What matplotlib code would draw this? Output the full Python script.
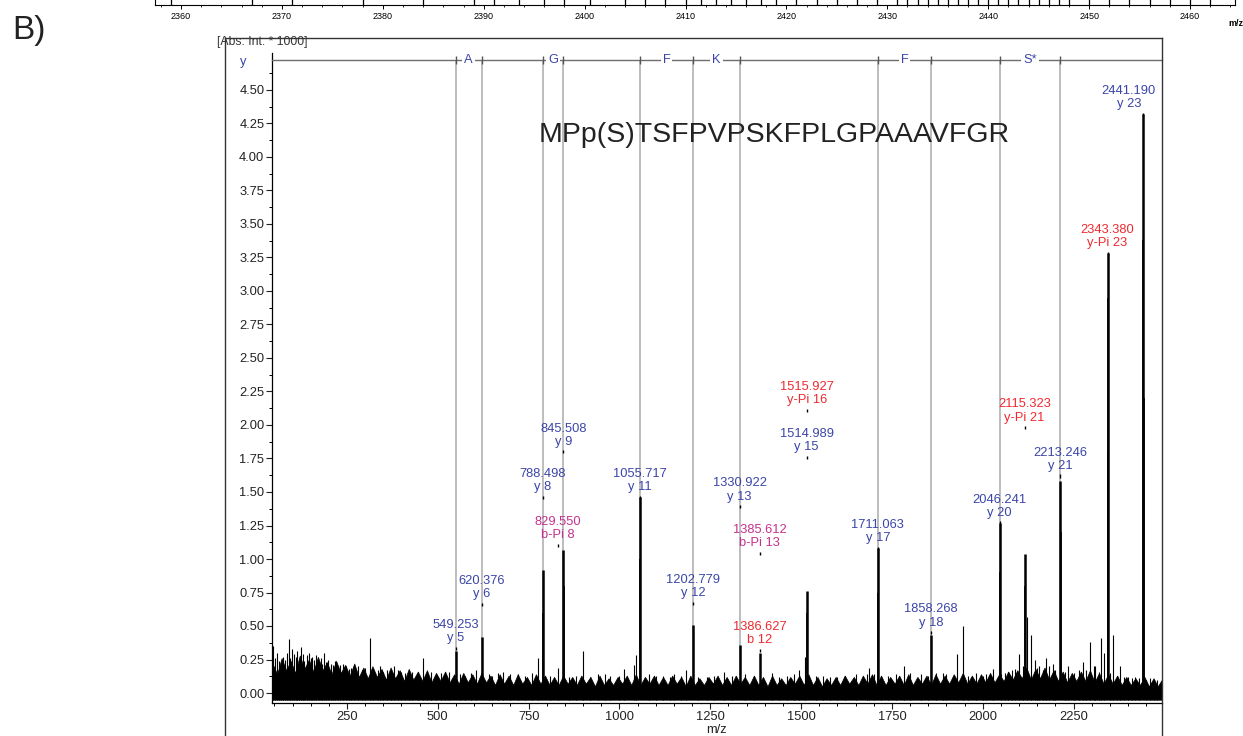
import numpy as np
import matplotlib
matplotlib.use('Agg')
import matplotlib.pyplot as plt
from matplotlib.lines import Line2D
from matplotlib.ticker import FixedLocator, FormatStrFormatter

plt.rcParams['font.family'] = ['Liberation Sans', 'DejaVu Sans']

# ---------------- data ----------------
# noise band: upper envelope peaks and dips
noise_mz = [45, 70, 95, 120, 145, 170, 195, 220, 245, 270, 295, 320, 345, 370, 395, 420, 445, 470, 495,
            520, 545, 570, 595, 620, 645, 670, 695, 720, 745, 770, 795, 820, 845, 870, 895, 920, 945, 970,
            995, 1020, 1045, 1070, 1095, 1120, 1145, 1170, 1195, 1220, 1245, 1270, 1295, 1320, 1345, 1370,
            1395, 1420, 1445, 1470, 1495, 1520, 1545, 1570, 1595, 1620, 1645, 1670, 1695, 1720, 1745, 1770,
            1795, 1820, 1845, 1870, 1895, 1920, 1945, 1970, 1995, 2020, 2045, 2070, 2095, 2120, 2145, 2170,
            2195, 2220, 2245, 2270, 2295, 2320, 2345, 2370, 2395, 2420, 2445, 2470, 2493]
noise_top = [0.22, 0.26, 0.24, 0.28, 0.25, 0.27, 0.23, 0.24, 0.21, 0.22, 0.19, 0.20, 0.18, 0.19, 0.17, 0.18,
             0.16, 0.17, 0.15, 0.16, 0.14, 0.15, 0.14, 0.15, 0.13, 0.14, 0.13, 0.14, 0.12, 0.14, 0.13, 0.12,
             0.13, 0.12, 0.13, 0.12, 0.13, 0.11, 0.12, 0.13, 0.14, 0.12, 0.13, 0.12, 0.13, 0.12, 0.13, 0.11,
             0.12, 0.13, 0.12, 0.13, 0.12, 0.13, 0.12, 0.13, 0.11, 0.12, 0.13, 0.14, 0.12, 0.11, 0.12, 0.13,
             0.12, 0.13, 0.14, 0.13, 0.12, 0.13, 0.14, 0.12, 0.13, 0.14, 0.13, 0.14, 0.15, 0.13, 0.14, 0.15,
             0.14, 0.16, 0.17, 0.19, 0.18, 0.19, 0.17, 0.16, 0.15, 0.16, 0.17, 0.15, 0.14, 0.13, 0.12, 0.11,
             0.12, 0.11, 0.10]
noise_dip = [0.14, 0.17, 0.15, 0.18, 0.16, 0.17, 0.14, 0.15, 0.13, 0.12, 0.11, 0.12, 0.10, 0.11, 0.09,
             0.10, 0.09, 0.08, 0.09, 0.08, 0.07, 0.08, 0.07, 0.08, 0.06, 0.07, 0.06, 0.07, 0.06, 0.07, 0.06,
             0.06, 0.07, 0.06, 0.07, 0.05, 0.06, 0.06, 0.07, 0.06, 0.06, 0.07, 0.06, 0.06, 0.07, 0.05, 0.06,
             0.06, 0.07, 0.06, 0.06, 0.07, 0.06, 0.06, 0.05, 0.06, 0.06, 0.07, 0.06, 0.06, 0.05, 0.06, 0.06,
             0.07, 0.06, 0.07, 0.06, 0.06, 0.07, 0.06, 0.06, 0.07, 0.06, 0.07, 0.07, 0.08, 0.07, 0.07, 0.08,
             0.08, 0.09, 0.10, 0.11, 0.10, 0.11, 0.10, 0.09, 0.08, 0.09, 0.09, 0.08, 0.07, 0.07, 0.06, 0.06,
             0.06, 0.05, 0.05]
noise_floor = -0.05

# minor spikes
spike_mz = [47, 52, 57, 62, 67, 75, 80, 84, 89, 93, 98, 104, 109, 113, 117, 123, 128, 133, 140, 146, 150,
            155, 160, 165, 172, 178, 182, 187, 193, 198, 205, 212, 218, 225, 232, 240, 248, 255, 262, 270,
            280, 290, 300, 314, 322, 335, 342, 350, 360, 370, 378, 390, 400, 410, 420, 430, 445, 459, 470,
            480, 495, 510, 520, 530, 560, 575, 590, 605, 640, 650, 665, 680, 700, 720, 740, 760, 775, 810,
            829.5, 860, 880, 900, 920, 940, 960, 975, 1000, 1012, 1039, 1046, 1080, 1100, 1120, 1140, 1150,
            1170, 1184, 1215, 1240, 1260, 1288, 1310, 1345, 1370, 1420, 1440, 1460, 1480, 1495, 1512, 1540,
            1560, 1580, 1600, 1620, 1650, 1680, 1688, 1700, 1720, 1740, 1760, 1782, 1800, 1830, 1850, 1870,
            1890, 1900, 1929, 1946, 1960, 1980, 2000, 2010, 2029, 2050, 2060, 2070, 2080, 2090, 2099, 2110,
            2123, 2134, 2143, 2150, 2155, 2165, 2173, 2182, 2193, 2200, 2225, 2235, 2250, 2265, 2276, 2285,
            2296, 2305, 2310, 2320, 2326, 2335, 2350, 2358, 2370, 2379, 2390, 2400, 2410, 2420, 2430, 2450,
            2460, 2470, 2480]
spike_h = [0.35, 0.26, 0.30, 0.24, 0.22, 0.27, 0.25, 0.30, 0.40, 0.26, 0.33, 0.29, 0.27, 0.31, 0.25, 0.34,
           0.29, 0.24, 0.28, 0.30, 0.26, 0.27, 0.25, 0.28, 0.24, 0.26, 0.22, 0.30, 0.23, 0.25, 0.22, 0.21,
           0.24, 0.20, 0.21, 0.22, 0.20, 0.18, 0.19, 0.21, 0.20, 0.17, 0.19, 0.41, 0.18, 0.17, 0.20, 0.16,
           0.17, 0.15, 0.20, 0.17, 0.16, 0.15, 0.14, 0.16, 0.15, 0.26, 0.14, 0.16, 0.14, 0.15, 0.13, 0.16,
           0.14, 0.13, 0.15, 0.17, 0.14, 0.13, 0.15, 0.16, 0.14, 0.14, 0.13, 0.15, 0.26, 0.13, 0.19, 0.12,
           0.13, 0.31, 0.12, 0.14, 0.14, 0.13, 0.13, 0.18, 0.21, 0.28, 0.14, 0.13, 0.13, 0.12, 0.14, 0.13,
           0.17, 0.12, 0.12, 0.13, 0.16, 0.13, 0.14, 0.13, 0.15, 0.12, 0.13, 0.14, 0.17, 0.27, 0.13, 0.13,
           0.12, 0.12, 0.13, 0.14, 0.14, 0.19, 0.14, 0.13, 0.13, 0.14, 0.20, 0.15, 0.14, 0.13, 0.15, 0.15,
           0.14, 0.29, 0.50, 0.13, 0.15, 0.13, 0.14, 0.18, 0.14, 0.15, 0.16, 0.17, 0.18, 0.29, 0.20, 0.57,
           0.43, 0.25, 0.19, 0.20, 0.17, 0.26, 0.20, 0.22, 0.17, 0.16, 0.20, 0.15, 0.17, 0.23, 0.17, 0.38,
           0.20, 0.20, 0.16, 0.41, 0.30, 0.15, 0.43, 0.13, 0.20, 0.12, 0.12, 0.11, 0.12, 0.11, 0.10, 0.11,
           0.10, 0.10]

# main peaks
peak_mz = [549.25, 620.38, 788.50, 845.51, 1055.72, 1202.78, 1330.92, 1386.63, 1515.0, 1711.06, 1858.27,
           2046.24, 2115.32, 2213.25, 2343.38, 2441.19]
peak_h = [0.31, 0.42, 0.92, 1.07, 1.46, 0.51, 0.36, 0.30, 0.76, 1.08, 0.43, 1.27, 1.04, 1.58, 3.28, 4.32]
iso_mz = [789.5, 846.5, 1056.7, 1516.0, 1712.1, 2047.2, 2116.3, 2214.2, 2344.4, 2345.4, 2442.2, 2443.2]
iso_h = [0.60, 0.80, 1.00, 0.60, 0.75, 0.90, 0.80, 1.20, 2.95, 1.80, 3.38, 2.20]

# annotations
lab_mz = [549.253, 620.376, 788.498, 845.508, 829.550, 1055.717, 1202.779, 1330.922, 1385.612, 1386.627,
          1515.927, 1514.989, 1711.063, 1858.268, 2046.241, 2115.323, 2213.246, 2343.380, 2441.190]
lab_ion = ['y 5', 'y 6', 'y 8', 'y 9', 'b-Pi 8', 'y 11', 'y 12', 'y 13', 'b-Pi 13', 'b 12',
           'y-Pi 16', 'y 15', 'y 17', 'y 18', 'y 20', 'y-Pi 21', 'y 21', 'y-Pi 23', 'y 23']
lab_h = [0.335, 0.66, 1.46, 1.80, 1.10, 1.46, 0.67, 1.39, 1.04, 0.32, 2.11, 1.76, 1.08, 0.45, 1.27, 1.98,
         1.62, 3.28, 4.32]
lab_kind = ['y', 'y', 'y', 'y', 'bpi', 'y', 'y', 'y', 'bpi', 'b', 'ypi', 'y', 'y', 'y', 'y', 'ypi', 'y',
            'ypi', 'y']

# y-ion ladder
ladder_mz = [549.253, 620.376, 788.498, 845.508, 1055.717, 1202.779, 1330.922, 1711.063, 1858.268,
             2046.241, 2213.246]
ladder_from = [549.253, 788.498, 1055.717, 1202.779, 1711.063, 2046.241]
ladder_to = [620.376, 845.508, 1202.779, 1330.922, 1858.268, 2213.246]
ladder_aa = ['A', 'G', 'F', 'K', 'F', 'S*']

sequence = 'MPp(S)TSFPVPSKFPLGPAAAVFGR'
y_ticks = [0.00, 0.25, 0.50, 0.75, 1.00, 1.25, 1.50, 1.75, 2.00, 2.25, 2.50, 2.75, 3.00, 3.25, 3.50,
           3.75, 4.00, 4.25, 4.50]
x_ticks = [250, 500, 750, 1000, 1250, 1500, 1750, 2000, 2250]

# top strip (previous panel, cut off)
top_ticks = [2360, 2370, 2380, 2390, 2400, 2410, 2420, 2430, 2440, 2450, 2460]
top_peaks = [2359, 2367, 2371, 2378, 2384, 2389, 2391, 2393.5, 2396, 2398, 2400.5, 2404, 2406, 2408,
             2410, 2411.5, 2413, 2414.5, 2416, 2417.5, 2419, 2421, 2423, 2425, 2427, 2429, 2431, 2432,
             2433, 2434, 2435, 2436, 2437, 2438, 2439, 2440, 2441, 2442, 2443, 2444, 2445, 2446, 2447,
             2448, 2450, 2452, 2454, 2456, 2458, 2460, 2462]

# ---------------- styles ----------------
BLUE = '#3b45a8'
RED = '#ee2a30'
MAG = '#c5318e'
kind_color = {'y': BLUE, 'ypi': RED, 'b': RED, 'bpi': MAG}
FS = 9.3

W, H = 1243, 736
fig = plt.figure(figsize=(W / 100, H / 100), dpi=100)


def fx(px):
    return px / W


def fy(py):
    return 1 - py / H


# ---------------- main axes ----------------
ax = fig.add_axes([fx(272), fy(703), fx(1162) - fx(272), fy(38) - fy(703)])
ppu = 0.3633
xmin = 250 - (347 - 272) / ppu
xmax = 250 + (1162 - 347) / ppu
ymin = -(703 - 693) / 134.0
ymax = (693 - 38) / 134.0
ax.set_xlim(xmin, xmax)
ax.set_ylim(ymin, ymax)

ladder_y = (693 - 60) / 134.0

# gray vertical ladder lines
ax.vlines(ladder_mz, 0, ladder_y, colors='#b8b8b8', lw=1.3, zorder=1)

# noise band: envelope alternates between peaks and dips
env_x, env_y = [], []
for i in range(len(noise_mz)):
    env_x.append(noise_mz[i])
    env_y.append(noise_top[i])
    if i < len(noise_dip):
        env_x.append((noise_mz[i] + noise_mz[i + 1]) / 2)
        env_y.append(noise_dip[i])
ax.fill_between(env_x, noise_floor, env_y, color='black', lw=0.5, zorder=2)
ax.vlines(spike_mz, noise_floor, spike_h, colors='black', lw=0.8, zorder=2)
ax.vlines(iso_mz, 0, iso_h, colors='black', lw=1.2, zorder=3)
ax.vlines(peak_mz, 0, peak_h, colors='black', lw=1.8, zorder=3)

# ladder
ax.plot([xmin, xmax], [ladder_y, ladder_y], color='#6e6e6e', lw=1.0, zorder=4, clip_on=False)
ax.vlines(ladder_mz, ladder_y - 0.03, ladder_y + 0.03, colors='#555555', lw=1.0, zorder=4)
for a, b, aa in zip(ladder_from, ladder_to, ladder_aa):
    ax.text((a + b) / 2, ladder_y, aa, ha='center', va='center', color=BLUE, fontsize=FS, zorder=5,
            bbox=dict(boxstyle='square,pad=0.15', fc='white', ec='none'))

# annotations
texts = []
for mz, ion, h, k in zip(lab_mz, lab_ion, lab_h, lab_kind):
    ax.vlines([mz], h - 0.012, h + 0.012, colors='black', lw=1.0, zorder=6)
    t = ax.annotate(f'{mz:.3f}\n{ion}', xy=(mz, h), xytext=(0, 3), textcoords='offset points',
                    ha='center', va='bottom', color=kind_color[k], fontsize=FS, linespacing=1.12,
                    zorder=7)
    texts.append(t)

# axes styling
for s in ['top', 'right']:
    ax.spines[s].set_visible(False)
ax.spines['left'].set_bounds(ymin, (693 - 53) / 134.0)
ax.spines['left'].set_linewidth(0.9)
ax.spines['bottom'].set_linewidth(0.9)
ax.yaxis.set_major_locator(FixedLocator(y_ticks))
ax.yaxis.set_minor_locator(FixedLocator([v + 0.125 for v in y_ticks]))
ax.yaxis.set_major_formatter(FormatStrFormatter('%.2f'))
ax.xaxis.set_major_locator(FixedLocator(x_ticks))
ax.xaxis.set_minor_locator(FixedLocator(list(range(50, 2500, 50))))
ax.tick_params(axis='both', which='major', direction='out', length=4, width=0.8, labelsize=FS, pad=1.5,
               colors='#222222')
ax.tick_params(axis='both', which='minor', direction='out', length=2, width=0.7)
ax.set_facecolor('none')

# shift labels that overflow the right edge
fig.canvas.draw()
r = fig.canvas.get_renderer()
ax_right = ax.get_window_extent(r).x1
for t in texts:
    bb = t.get_window_extent(r)
    if bb.x1 > ax_right - 6:
        shift = (bb.x1 - (ax_right - 6)) * 72 / 100
        t.set_position((-shift, 3))

# texts outside
fig.text(fx(243), fy(62), 'y', ha='center', va='center', color=BLUE, fontsize=FS)
fig.text(fx(217), fy(42), '[Abs. Int. * 1000]', ha='left', va='center', color='#333333', fontsize=8.8)
fig.text(fx(12), fy(30), 'B)', ha='left', va='center', color='#222222', fontsize=24)
fig.text(fx(774), fy(135), sequence, ha='center', va='center', color='#222222', fontsize=20.5)
fig.text(fx(716), fy(730), 'm/z', ha='center', va='center', color='#222222', fontsize=FS)

# outer frame
fig.add_artist(Line2D([fx(225), fx(225)], [fy(38), 0], color='#333333', lw=1.0))
fig.add_artist(Line2D([fx(225), fx(1162)], [fy(38), fy(38)], color='#333333', lw=1.0))
fig.add_artist(Line2D([fx(1162), fx(1162)], [fy(38), 0], color='#333333', lw=1.0))

# ---------------- top strip ----------------
axt = fig.add_axes([fx(155), fy(5), fx(1235) - fx(155), 0.2])
ppu_t = (1190 - 181) / 100.0
axt.set_xlim(2360 - (181 - 155) / ppu_t, 2460 + (1235 - 1190) / ppu_t)
axt.set_ylim(0, 1)
axt.vlines(top_peaks, 0, 1, colors='black', lw=0.9)
axt.xaxis.set_major_locator(FixedLocator(top_ticks))
axt.xaxis.set_minor_locator(FixedLocator(list(range(2358, 2465, 2))))
axt.set_yticks([])
axt.spines['top'].set_visible(False)
axt.tick_params(axis='x', which='major', direction='out', length=3, width=0.7, labelsize=6.5, pad=2)
axt.tick_params(axis='x', which='minor', direction='out', length=1.5, width=0.6)
for lab in axt.get_xticklabels():
    lab.set_family(['Liberation Sans Narrow', 'Liberation Sans'])
fig.text(fx(1236), fy(24), 'm/z', ha='center', va='center', fontsize=6.5, fontweight='bold')

fig.savefig('out.png', dpi=100)
